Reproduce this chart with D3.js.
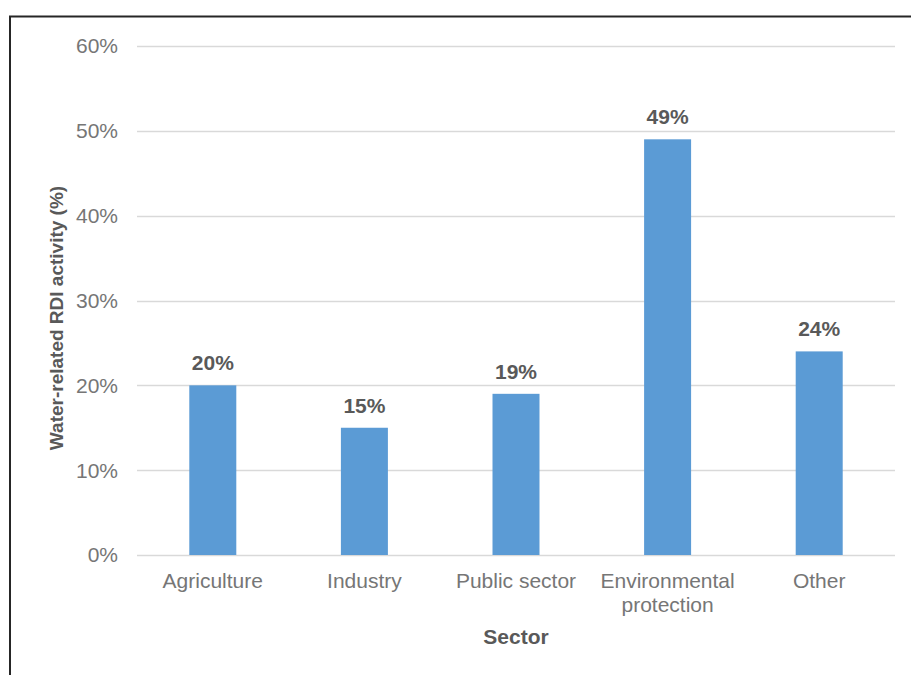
<!DOCTYPE html>
<html>
<head>
<meta charset="utf-8">
<script src="https://cdn.jsdelivr.net/npm/d3@7"></script>
<style>
  html, body { margin: 0; padding: 0; background: #fff; }
  svg { display: block; font-family: "Liberation Sans", Arial, sans-serif; }
</style>
</head>
<body>
<svg id="chart" width="911" height="675"></svg>
<script>
// Share of water-related RDI activity by sector
const categories = [["Agriculture"], ["Industry"], ["Public sector"], ["Environmental", "protection"], ["Other"]];
const values = [20, 15, 19, 49, 24];
const yTicks = [0, 10, 20, 30, 40, 50, 60];

const svg = d3.select("#chart");
const W = 911, H = 675;
const plot = { left: 137, right: 895, top: 46, bottom: 555 };

// outer frame: top and left edges
svg.append("path")
  .attr("d", `M10,${H} L10,16.5 L${W},16.5`)
  .attr("fill", "none")
  .attr("stroke", "#262626")
  .attr("stroke-width", 2);

const x = d3.scaleBand()
  .domain(categories.map(d => d.join(" ")))
  .range([plot.left, plot.right])
  .paddingInner(0.69)
  .paddingOuter(0.345);

const y = d3.scaleLinear().domain([0, 60]).range([plot.bottom, plot.top]);

// horizontal gridlines
svg.append("g")
  .selectAll("line")
  .data(yTicks)
  .join("line")
  .attr("x1", plot.left)
  .attr("x2", plot.right)
  .attr("y1", d => Math.round(y(d)) + 0.5)
  .attr("y2", d => Math.round(y(d)) + 0.5)
  .attr("stroke", "#d9d9d9")
  .attr("stroke-width", 1.3);

// y tick labels
svg.append("g")
  .selectAll("text")
  .data(yTicks)
  .join("text")
  .attr("x", 118)
  .attr("y", d => y(d))
  .attr("dy", "0.35em")
  .attr("text-anchor", "end")
  .attr("font-size", 21)
  .attr("fill", "#767676")
  .text(d => d + "%");

// bars
svg.append("g")
  .selectAll("rect")
  .data(values)
  .join("rect")
  .attr("x", (d, i) => x(categories[i].join(" ")))
  .attr("width", x.bandwidth())
  .attr("y", d => y(d))
  .attr("height", d => y(0) - y(d))
  .attr("fill", "#5b9bd5");

// value labels
svg.append("g")
  .selectAll("text")
  .data(values)
  .join("text")
  .attr("x", (d, i) => x(categories[i].join(" ")) + x.bandwidth() / 2)
  .attr("y", d => y(d) - 15)
  .attr("text-anchor", "middle")
  .attr("font-size", 21)
  .attr("font-weight", "bold")
  .attr("fill", "#595959")
  .text(d => d + "%");

// category labels
const cat = svg.append("g")
  .selectAll("text")
  .data(categories)
  .join("text")
  .attr("x", d => x(d.join(" ")) + x.bandwidth() / 2)
  .attr("y", 588)
  .attr("text-anchor", "middle")
  .attr("font-size", 21)
  .attr("fill", "#767676");
cat.selectAll("tspan")
  .data(d => d.map(t => ({ t, c: d.join(" ") })))
  .join("tspan")
  .attr("x", d => x(d.c) + x.bandwidth() / 2)
  .attr("dy", (d, i) => i === 0 ? 0 : 24)
  .text(d => d.t);

// axis titles
svg.append("text")
  .attr("x", (plot.left + plot.right) / 2)
  .attr("y", 644)
  .attr("text-anchor", "middle")
  .attr("font-size", 21)
  .attr("font-weight", "bold")
  .attr("fill", "#595959")
  .text("Sector");

svg.append("text")
  .attr("transform", `translate(63,318) rotate(-90)`)
  .attr("text-anchor", "middle")
  .attr("font-size", 19)
  .attr("font-weight", "bold")
  .attr("fill", "#595959")
  .text("Water-related RDI activity (%)");
</script>
</body>
</html>
